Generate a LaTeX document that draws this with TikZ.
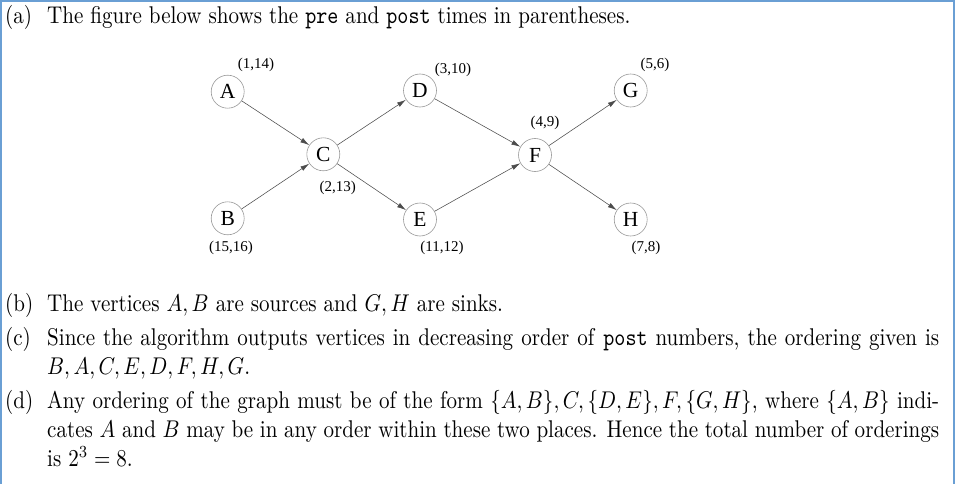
\documentclass[tikz,border=0pt]{standalone}
\usepackage{fontspec}
\usepackage{graphicx}
\usetikzlibrary{arrows.meta}
\newfontfamily\timesf{Liberation Serif}
\definecolor{frameblue}{HTML}{6A9FD4}
\newcommand\sxx{2.105}
\newcommand\syy{2.42}
\newlength\jw
\setlength\jw{423.75pt}% 892/2.105
\newcommand\tline[1]{\scalebox{\sxx}[\syy]{#1}}
\newcommand\jline[1]{\scalebox{\sxx}[\syy]{\hbox to \jw{#1}}}
\begin{document}
\begin{tikzpicture}[x=1pt,y=-1pt,
  vtx/.style={circle,draw=black!40,line width=0.6pt,minimum size=33pt,inner sep=0pt,font=\timesf\fontsize{21.5}{21.5}\selectfont},
  tlab/.style={inner sep=0pt,font=\timesf\fontsize{15}{15}\selectfont},
  edge/.style={draw=black!70,line width=0.55pt,-{Latex[length=9pt,width=5pt]}},
  txt/.style={anchor=base west,inner sep=0pt,font=\fontsize{10}{12}\selectfont}]
\useasboundingbox (0,0) rectangle (955,484);
\fill[white] (0,0) rectangle (955,484);
% frame
\draw[frameblue,line width=2.5pt] (0,1.25) -- (955,1.25);
\draw[frameblue,line width=1.6pt] (0.8,0) -- (0.8,484);
\draw[frameblue,line width=1.6pt] (954.2,0) -- (954.2,484);
% graph
\node[vtx] (A) at (227.7,91.7) {A};
\node[vtx] (B) at (227.7,218.3) {B};
\node[vtx] (C) at (323.3,154.3) {C};
\node[vtx] (D) at (420,90.5) {D};
\node[vtx] (E) at (420,219.5) {E};
\node[vtx] (F) at (535,155) {F};
\node[vtx] (G) at (630.7,90.5) {G};
\node[vtx] (H) at (630.7,219.5) {H};
\draw[edge] (A) -- (C);
\draw[edge] (B) -- (C);
\draw[edge] (C) -- (D);
\draw[edge] (C) -- (E);
\draw[edge] (D) -- (F);
\draw[edge] (E) -- (F);
\draw[edge] (F) -- (G);
\draw[edge] (F) -- (H);
\node[tlab] (lA) at (256,65) {(1,14)};
\node[tlab] (lD) at (453,70) {(3,10)};
\node[tlab] (lC) at (337.7,188) {(2,13)};
\node[tlab] (lB) at (231,248) {(15,16)};
\node[tlab] (lE) at (442,248) {(11,12)};
\node[tlab] (lF) at (545,123) {(4,9)};
\node[tlab] (lG) at (655,65) {(5,6)};
\node[tlab] (lH) at (646,248) {(7,8)};
% text
\node[txt] (ia) at (5,24) {\tline{(a)}};
\node[txt] (ta) at (47,24) {\tline{The figure below shows the \texttt{pre} and \texttt{post} times in parentheses.}};
\node[txt] (ib) at (5,311.7) {\tline{(b)}};
\node[txt] (tb) at (47,311.7) {\tline{The vertices $A,B$ are sources and $G,H$ are sinks.}};
\node[txt] (ic) at (5,345) {\tline{(c)}};
\node[txt] (tc1) at (47,345) {\jline{Since the algorithm outputs vertices in decreasing order of \texttt{post} numbers, the ordering given is}};
\node[txt] (tc2) at (47,374.3) {\tline{$B,A,C,E,D,F,H,G$.}};
\node[txt] (id) at (5,408.5) {\tline{(d)}};
\node[txt] (td1) at (47,408.5) {\jline{Any ordering of the graph must be of the form $\{A,B\},C,\{D,E\},F,\{G,H\}$, where $\{A,B\}$ indi-}};
\node[txt] (td2) at (47,437.7) {\jline{cates $A$ and $B$ may be in any order within these two places. Hence the total number of orderings}};
\node[txt] (td3) at (47,466.7) {\tline{is $2^3=8$.}};
\end{tikzpicture}
\end{document}
